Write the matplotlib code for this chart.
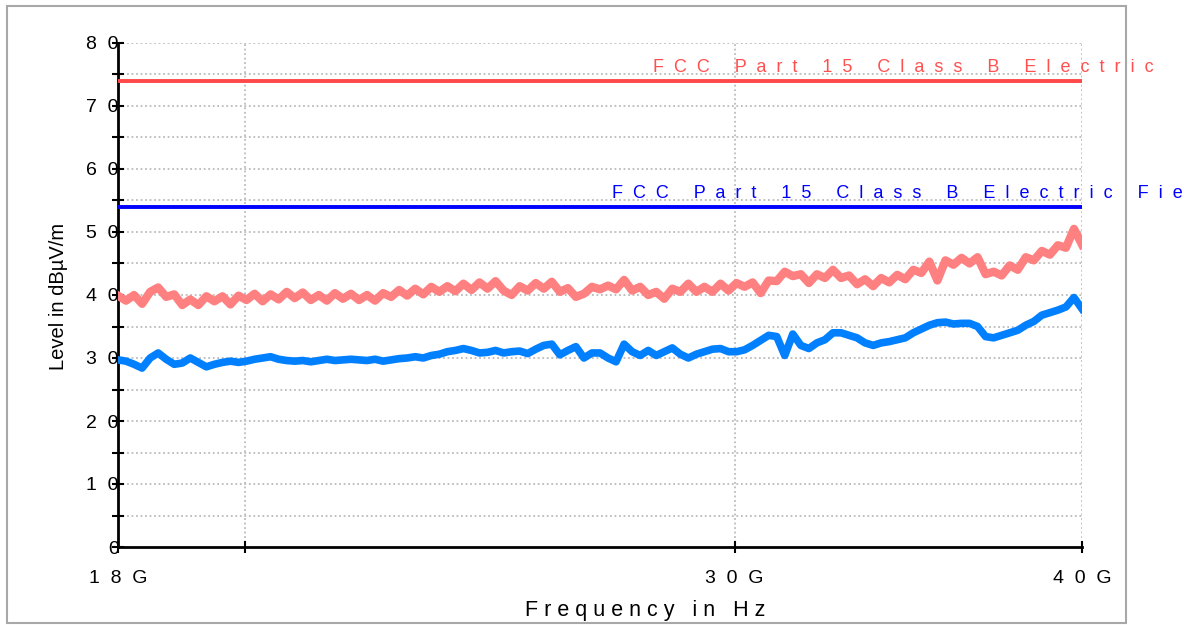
import numpy as np
import matplotlib.pyplot as plt
from matplotlib.patches import Rectangle

OUT = 'out.png'

F_START = 18e9
F_STOP = 40e9

# limit lines (dBuV/m)
LIMIT_PEAK = 74
LIMIT_AVG = 54
LIMIT_PEAK_NAME = 'FCC Part 15 Class B Electric'
LIMIT_AVG_NAME = 'FCC Part 15 Class B Electric Field'

# peak trace (pink)
peak_level = [
    39.9, 39.1, 40.0, 38.6, 40.5, 41.2, 39.7, 40.1, 38.4, 39.3,
    38.4, 39.8, 39.0, 39.8, 38.5, 39.9, 39.2, 40.2, 39.0, 40.1,
    39.3, 40.5, 39.5, 40.4, 39.2, 40.0, 39.1, 40.3, 39.4, 40.2,
    39.2, 40.0, 39.1, 40.3, 39.7, 40.8, 39.9, 41.0, 40.1, 41.3,
    40.5, 41.4, 40.6, 41.8, 40.8, 42.0, 41.0, 42.2, 40.7, 40.0,
    41.4, 40.7, 41.9, 41.0, 42.1, 40.5, 41.1, 39.7, 40.2, 41.3,
    40.9, 41.5, 40.9, 42.4, 40.7, 41.3, 40.0, 40.5, 39.4, 41.0,
    40.5, 41.8, 40.5, 41.3, 40.5, 41.8, 40.7, 41.9, 41.3, 42.0,
    40.3, 42.3, 42.2, 43.7, 43.0, 43.3, 41.9, 43.3, 42.7, 44.0,
    42.7, 43.1, 41.7, 42.5, 41.4, 42.7, 42.0, 43.2, 42.5, 44.0,
    43.5, 45.3, 42.3, 45.5, 44.8, 45.9, 45.0, 46.0, 43.3, 43.7,
    43.1, 44.7, 44.0, 46.0, 45.5, 47.0, 46.4, 47.9, 47.5, 50.5, 48.0,
]

# average trace (blue)
avg_level = [
    29.7, 29.5, 29.0, 28.4, 30.0, 30.8, 29.8, 29.0, 29.2, 30.0,
    29.3, 28.6, 29.0, 29.3, 29.5, 29.3, 29.5, 29.8, 30.0, 30.2,
    29.8, 29.6, 29.5, 29.6, 29.4, 29.6, 29.8, 29.6, 29.7, 29.8,
    29.7, 29.6, 29.8, 29.5, 29.7, 29.9, 30.0, 30.2, 30.0, 30.4,
    30.6, 31.0, 31.2, 31.5, 31.2, 30.8, 30.9, 31.2, 30.8, 31.0,
    31.1, 30.7, 31.4, 32.0, 32.2, 30.5, 31.2, 31.8, 30.0, 30.8,
    30.8, 30.0, 29.4, 32.2, 31.0, 30.4, 31.2, 30.4, 31.0, 31.6,
    30.6, 30.0, 30.6, 31.0, 31.4, 31.5, 31.0, 31.0, 31.3, 32.0,
    32.8, 33.6, 33.4, 30.4, 33.8, 32.0, 31.5, 32.4, 32.9, 34.0,
    34.0, 33.6, 33.2, 32.4, 32.0, 32.4, 32.6, 32.9, 33.2, 34.0,
    34.6, 35.2, 35.6, 35.7, 35.4, 35.5, 35.5, 35.0, 33.4, 33.2,
    33.6, 34.0, 34.4, 35.2, 35.8, 36.8, 37.2, 37.6, 38.1, 39.6, 37.8,
]

y_ticks = [0, 10, 20, 30, 40, 50, 60, 70, 80]
y_labels = ['0', '1 0', '2 0', '3 0', '4 0', '5 0', '6 0', '7 0', '8 0']
x_ticks = [18e9, 20e9, 30e9, 40e9]
x_labels = ['1 8 G', '', '3 0 G', '4 0 G']


def spaced(s):
    # the analyser software draws its texts letter spaced
    return '  '.join(s)


plt.rcParams['font.family'] = ['Liberation Sans', 'DejaVu Sans']

fig = plt.figure(figsize=(11.92, 6.25), dpi=100)
ax = fig.add_axes([118 / 1192, 1 - 547 / 625, 964 / 1192, 504 / 625])

# outer frame of the report picture
fig.patches.append(Rectangle((7 / 1192, 2 / 625), 1119 / 1192, 617 / 625,
                             transform=fig.transFigure, fill=False,
                             edgecolor='#a8a8a8', linewidth=1.5))

freq_peak = np.geomspace(F_START, F_STOP, len(peak_level))
freq_avg = np.geomspace(F_START, F_STOP, len(avg_level))

ax.plot(freq_peak, peak_level, color='#ff8080', linewidth=6, zorder=3)
ax.plot(freq_avg, avg_level, color='#0080ff', linewidth=5.5, zorder=4)

ax.axhline(LIMIT_PEAK, color='#ff4848', linewidth=2.8, zorder=5)
ax.axhline(LIMIT_AVG, color='#0000ff', linewidth=2.8, zorder=5)

tr = ax.get_yaxis_transform()
ax.text(0.555, LIMIT_PEAK + 0.7, spaced(LIMIT_PEAK_NAME), transform=tr,
        color='#ff5050', fontsize=13, ha='left', va='bottom', clip_on=False)
# runs past the right edge of the picture, as in the report
ax.text(0.5124, LIMIT_AVG + 0.7, spaced(LIMIT_AVG_NAME), transform=tr,
        color='#0000ff', fontsize=13, ha='left', va='bottom', clip_on=False)

ax.set_xscale('log')
ax.set_xlim(F_START, F_STOP)
ax.set_ylim(0, 80)

ax.set_xticks(x_ticks)
ax.set_xticklabels([lab.replace(' ', '  ') for lab in x_labels])
ax.xaxis.set_minor_locator(plt.NullLocator())
ax.set_yticks(y_ticks)
ax.set_yticklabels([lab.replace(' ', '  ') for lab in y_labels])
ax.set_yticks(np.arange(5, 80, 10), minor=True)

ax.tick_params(axis='both', which='both', direction='inout', length=9,
               width=1.5, color='black', labelsize=14)
ax.tick_params(axis='y', pad=-5)
ax.tick_params(axis='x', pad=12)

# dotted grid
dot = dict(color='#bbbbbb', linestyle=(0, (1, 1.5)), linewidth=1.3, zorder=1)
for yv in np.arange(5, 81, 5):
    ax.axhline(yv, **dot)
for xv in [20e9, 30e9, 40e9]:
    ax.axvline(xv, **dot)

for side in ['top', 'right']:
    ax.spines[side].set_visible(False)
for side in ['left', 'bottom']:
    ax.spines[side].set_linewidth(2)
    ax.spines[side].set_color('black')

fig.text(645 / 1192, 1 - 616 / 625, 'F r e q u e n c y   i n   H z',
         fontsize=15.5, ha='center', va='baseline')
fig.text(58 / 1192, 1 - 296 / 625, 'Level in dBµV/m', fontsize=14.5,
         rotation=90, ha='center', va='center')

fig.savefig(OUT, dpi=100)
